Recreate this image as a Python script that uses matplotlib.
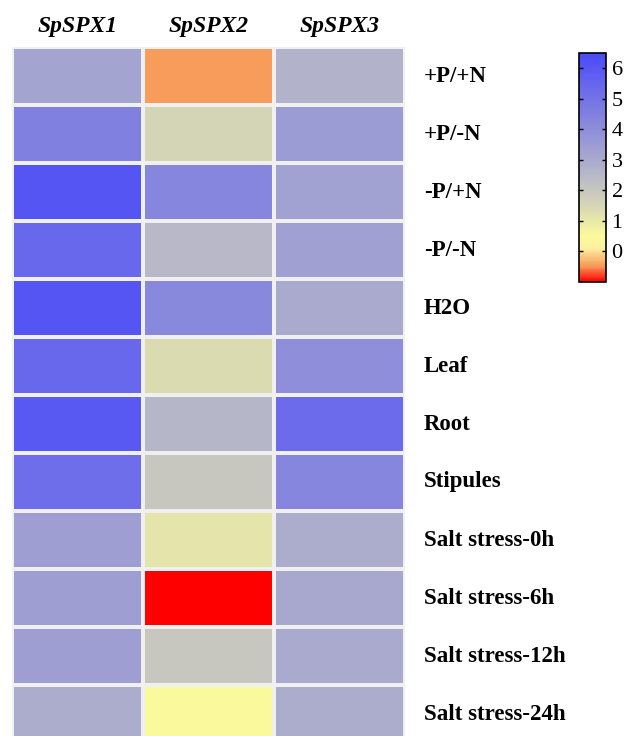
import numpy as np
import matplotlib.pyplot as plt
from matplotlib.colors import LinearSegmentedColormap, Normalize

genes = ["SpSPX1", "SpSPX2", "SpSPX3"]
conditions = ["+P/+N", "+P/-N", "-P/+N", "-P/-N", "H2O", "Leaf", "Root",
              "Stipules", "Salt stress-0h", "Salt stress-6h",
              "Salt stress-12h", "Salt stress-24h"]

# expression level per condition (rows) for each gene
spspx1 = [3.2, 4.5, 6.1, 5.4, 6.1, 5.4, 6.0, 5.2, 3.4, 3.4, 3.4, 2.95]
spspx2 = [-0.45, 1.55, 4.3, 2.5, 4.2, 1.35, 2.55, 2.0, 1.1, -1.0, 2.0, 0.5]
spspx3 = [2.7, 3.5, 3.3, 3.35, 3.0, 4.0, 5.3, 4.3, 2.9, 3.1, 3.0, 2.9]

cbar_ticks = [0, 1, 2, 3, 4, 5, 6]
vmin, vmax = -1.0, 6.5

plt.rcParams["font.family"] = ["Liberation Serif", "DejaVu Serif"]

# red -> orange -> yellow -> grey -> blue
anchors = [(-1.0, "#ff0000"), (-0.5, "#f89858"), (0.1, "#fdf0a0"),
           (0.5, "#fafa9c"), (1.5, "#d6d6b6"), (2.5, "#b8b8c8"),
           (3.5, "#9c9cd4"), (4.5, "#8080e0"), (5.5, "#6666ee"),
           (6.5, "#4a4af8")]
cmap = LinearSegmentedColormap.from_list(
    "expr", [((v - vmin) / (vmax - vmin), c) for v, c in anchors])
norm = Normalize(vmin=vmin, vmax=vmax)

data = np.column_stack([spspx1, spspx2, spspx3])

W, H = 630, 736
fig = plt.figure(figsize=(W / 100, H / 100), dpi=100)
ax = fig.add_axes([12 / W, (H - 743) / H, 393 / W, 696 / H])
ax.pcolormesh(data, cmap=cmap, norm=norm, edgecolors="#f0f0f0", linewidth=1.6)
ax.set_xlim(0, len(genes))
ax.set_ylim(len(conditions), 0)
ax.set_xticks([])
ax.set_yticks([])
for s in ax.spines.values():
    s.set_visible(False)

for i, g in enumerate(genes):
    ax.text(i + 0.5, -0.36, g, ha="center", va="center", fontsize=17,
            fontweight="bold", fontstyle="italic")
for j, c in enumerate(conditions):
    ax.text(3.145, j + 0.5, c, ha="left", va="center", fontsize=16.5,
            fontweight="bold")

cax = fig.add_axes([579 / W, (H - 282) / H, 27 / W, 229 / H])
sm = plt.cm.ScalarMappable(norm=norm, cmap=cmap)
cb = fig.colorbar(sm, cax=cax, ticks=cbar_ticks)
cb.outline.set_linewidth(1.2)
cax.tick_params(direction="in", left=True, right=True, length=3,
                width=1, labelsize=16, pad=4)

fig.savefig("out.png", dpi=100)
